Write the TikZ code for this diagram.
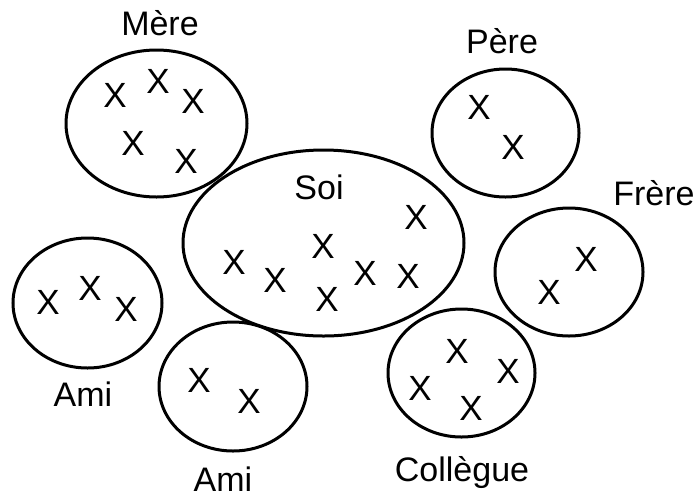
\documentclass[tikz,border=0pt]{standalone}
\usepackage{fontspec}
\setmainfont{Liberation Sans}
\usetikzlibrary{shapes.geometric}
\begin{document}
\begin{tikzpicture}[x=1pt,y=-1pt,
  grp/.style={draw=black,line width=3pt,ellipse,inner sep=0pt},
  lbl/.style={font=\fontsize{34}{36}\selectfont,inner sep=0pt,anchor=base},
  mk/.style={font=\fontsize{35}{37}\selectfont,inner sep=0pt}]
\useasboundingbox (0,0) rectangle (698,499);
% groups
\node[grp,minimum width=181pt,minimum height=147pt] (mere) at (156.5,123.5) {};
\node[grp,minimum width=147pt,minimum height=128pt] (pere) at (505.5,133) {};
\node[grp,minimum width=281pt,minimum height=186pt] (soi) at (323.5,243) {};
\node[grp,minimum width=148pt,minimum height=128pt] (frere) at (569,272) {};
\node[grp,minimum width=149pt,minimum height=130pt] (ami1) at (87.5,303) {};
\node[grp,minimum width=148pt,minimum height=129pt] (ami2) at (233,386.5) {};
\node[grp,minimum width=147pt,minimum height=128pt] (coll) at (461.5,373) {};
% labels
\node[lbl] (lmere) at (160,35) {Mère};
\node[lbl] (lpere) at (502,53) {Père};
\node[lbl] (lsoi) at (319,199) {Soi};
\node[lbl] (lfrere) at (654,205) {Frère};
\node[lbl] (lami1) at (83,406) {Ami};
\node[lbl] (lami2) at (223,491) {Ami};
\node[lbl] (lcoll) at (462,481) {Collègue};
% marks
\foreach \n/\p in {m1/{115,95},m2/{158,81},m3/{193,101},m4/{133,143},m5/{186,161},
  p1/{479,107},p2/{513,147},
  f1/{586,259},f2/{549,292},
  a1/{48,302},a2/{90,288},a3/{126,309},
  b1/{199,380},b2/{249,401},
  c1/{457,351},c2/{508,371},c3/{420,388},c4/{471,408},
  s1/{416,217},s2/{234,262},s3/{275,280},s4/{323,246},s5/{365,273},s6/{408,276},s7/{327,299}}
  \node[mk] (\n) at (\p) {X};
\end{tikzpicture}
\end{document}
